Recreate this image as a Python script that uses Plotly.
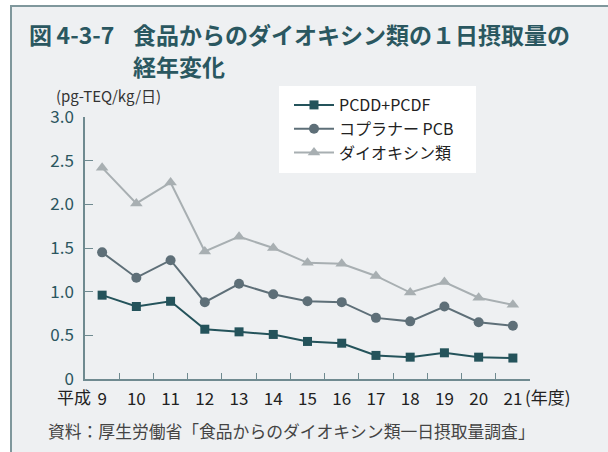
import plotly.graph_objects as go

years = ["9", "10", "11", "12", "13", "14", "15", "16", "17", "18", "19", "20", "21"]
pcdd_pcdf = [0.96, 0.83, 0.89, 0.57, 0.54, 0.51, 0.43, 0.41, 0.27, 0.25, 0.30, 0.25, 0.24]
coplanar_pcb = [1.45, 1.16, 1.36, 0.88, 1.09, 0.97, 0.89, 0.88, 0.70, 0.66, 0.83, 0.65, 0.61]
dioxins = [2.42, 2.01, 2.25, 1.46, 1.63, 1.50, 1.33, 1.32, 1.18, 0.99, 1.11, 0.93, 0.85]
y_ticks = [0, 0.5, 1.0, 1.5, 2.0, 2.5, 3.0]
y_ticktext = ["0", "0.5", "1.0", "1.5", "2.0", "2.5", "3.0"]

FONT = "Noto Sans CJK JP"
W, H = 608, 452
L, R, T, B = 85, 78, 117, 73
pw, ph = W - L - R, H - T - B


def px(x):
    return (x - L) / pw


def py(y):
    return (H - B - y) / ph


fig = go.Figure()
fig.add_trace(go.Scatter(x=years, y=pcdd_pcdf, name="PCDD+PCDF", mode="lines+markers",
                         line=dict(color="#24535b", width=2),
                         marker=dict(symbol="square", size=9, color="#24535b")))
fig.add_trace(go.Scatter(x=years, y=coplanar_pcb, name="コプラナー PCB", mode="lines+markers",
                         line=dict(color="#5e6f78", width=2),
                         marker=dict(symbol="circle", size=10, color="#5e6f78")))
fig.add_trace(go.Scatter(x=years, y=dioxins, name="ダイオキシン類", mode="lines+markers",
                         line=dict(color="#a8afb2", width=2),
                         marker=dict(symbol="triangle-up", size=11, color="#a8afb2")))

shapes = [
    dict(type="rect", xref="paper", yref="paper",
         x0=px(11), x1=px(W + 20), y0=py(6), y1=py(H + 20),
         fillcolor="#eef0f2", line=dict(color="#7f979c", width=2), layer="below"),
    dict(type="rect", xref="paper", yref="paper",
         x0=px(279), x1=px(476), y0=py(86), y1=py(173),
         fillcolor="white", line=dict(width=0), layer="below"),
]

annotations = [
    dict(text="<b>図&#8201;4-3-7</b>", x=px(27), y=py(34), xanchor="left", yanchor="middle",
         font=dict(size=23, color="#2a5760", family=FONT)),
    dict(text="<b>食品からのダイオキシン類の１日摂取量の</b>", x=px(131), y=py(34),
         xanchor="left", yanchor="middle", font=dict(size=23, color="#2a5760", family=FONT)),
    dict(text="<b>経年変化</b>", x=px(131), y=py(66), xanchor="left", yanchor="middle",
         font=dict(size=23, color="#2a5760", family=FONT)),
    dict(text="(pg-TEQ/kg/日)", x=px(54), y=py(95), xanchor="left", yanchor="middle",
         font=dict(size=15, color="#333333", family=FONT)),
    dict(text="平成", x=px(93), y=py(396), xanchor="right", yanchor="middle",
         font=dict(size=17, color="#222222", family=FONT)),
    dict(text="(年度)", x=px(523), y=py(396), xanchor="left", yanchor="middle",
         font=dict(size=17, color="#222222", family=FONT)),
    dict(text="資料：厚生労働省「食品からのダイオキシン類一日摂取量調査」", x=px(46), y=py(431),
         xanchor="left", yanchor="middle", font=dict(size=16.8, color="#444444", family=FONT)),
]
for a in annotations:
    a.update(xref="paper", yref="paper", showarrow=False)

fig.update_layout(
    width=W, height=H,
    margin=dict(l=L, r=R, t=T, b=B, pad=0),
    paper_bgcolor="white",
    plot_bgcolor="rgba(0,0,0,0)",
    font=dict(family=FONT, color="#222222"),
    shapes=shapes,
    annotations=annotations,
    showlegend=True,
    legend=dict(x=px(289), y=py(88), xanchor="left", yanchor="top",
                bgcolor="rgba(0,0,0,0)", borderwidth=0,
                font=dict(size=16, color="#222222", family=FONT),
                itemwidth=40, tracegroupgap=0),
    xaxis=dict(type="category", range=[-0.5, 12.5], showline=True, linecolor="#6f8a90",
               linewidth=1.5, ticks="inside", ticklen=6, tickwidth=1.2, tickcolor="#6f8a90",
               tickson="boundaries", showgrid=False, zeroline=False,
               tickfont=dict(size=17, color="#222222", family=FONT), ticklabelstandoff=4),
    yaxis=dict(range=[0, 3.0], tickvals=y_ticks, ticktext=y_ticktext, showline=True,
               linecolor="#6f8a90", linewidth=1.5, ticks="inside", ticklen=8, tickwidth=1.2,
               tickcolor="#6f8a90", showgrid=False, zeroline=False,
               tickfont=dict(size=17, color="#2b5660", family=FONT), ticklabelstandoff=6),
)

fig.write_html("out.html", config={"displayModeBar": False},
               post_script="document.body.style.margin='0';document.body.style.overflow='hidden';")
